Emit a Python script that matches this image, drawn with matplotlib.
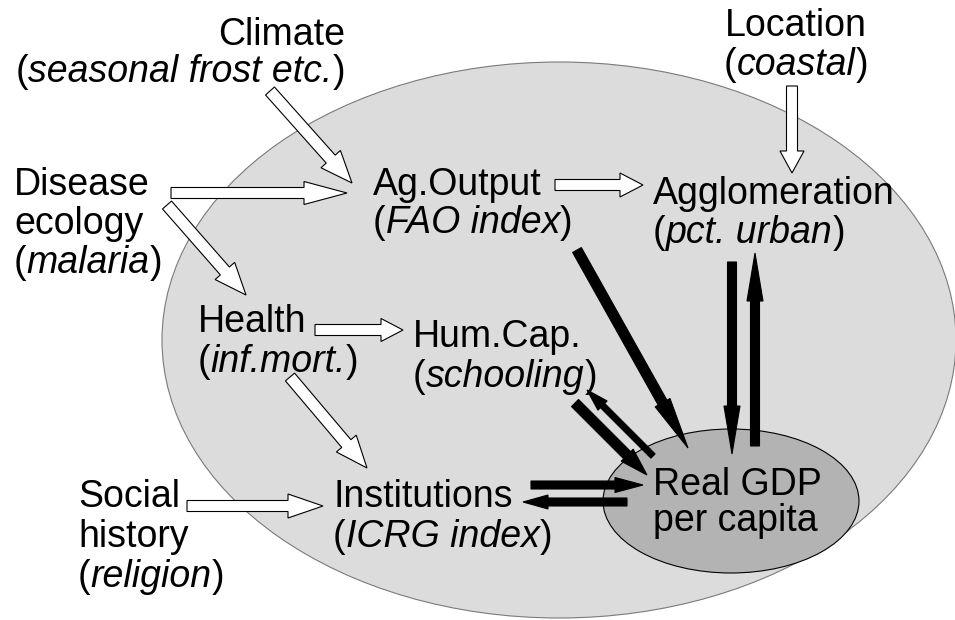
import matplotlib
matplotlib.use("Agg")
import matplotlib.pyplot as plt
from matplotlib.patches import Ellipse, FancyArrow

plt.rcParams['font.family'] = ['Liberation Sans', 'DejaVu Sans']

# Nodes: main label lines and the proxy variable (shown in italics)
node_keys = ["climate", "disease", "location", "agout", "agglom",
             "health", "humcap", "social", "inst", "gdp"]
node_lines = [["Climate"], ["Disease", "ecology"], ["Location"],
              ["Ag.Output"], ["Agglomeration"], ["Health"], ["Hum.Cap."],
              ["Social", "history"], ["Institutions"], ["Real GDP", "per capita"]]
node_proxy = ["seasonal frost etc.", "malaria", "coastal", "FAO index",
              "pct. urban", "inf.mort.", "schooling", "religion",
              "ICRG index", None]

# causal links: hollow = exogenous/indirect, solid = endogenous
white_links = [("climate", "agout"), ("disease", "agout"), ("disease", "health"),
               ("agout", "agglom"), ("location", "agglom"), ("health", "humcap"),
               ("health", "inst"), ("social", "inst")]
black_links = [("agout", "gdp"), ("agglom", "gdp"), ("gdp", "agglom"),
               ("humcap", "gdp"), ("gdp", "humcap"), ("inst", "gdp"),
               ("gdp", "inst")]

# layout (pixel coords): x, first baseline, alignment, line spacing
layout = {
    "climate": (345, 45, "right", 37),
    "disease": (14, 195, "left", 39),
    "location": (796, 36, "center", 39),
    "agout": (373, 195, "left", 38),
    "agglom": (653, 204, "left", 39),
    "health": (198, 332, "left", 40),
    "humcap": (413, 347, "left", 40),
    "social": (78, 507, "left", 40),
    "inst": (333, 507, "left", 40),
    "gdp": (653, 495, "left", 36),
}

# arrow geometry: tail, tip, shaft width, head width, head length
arrow_geom = {
    ("climate", "agout"): ((270, 91), (352, 183), 12, 26, 32),
    ("disease", "agout"): ((171, 193), (347, 193), 11, 23, 43),
    ("disease", "health"): ((167, 205), (246, 295), 12, 26, 32),
    ("agout", "agglom"): ((555, 185), (643, 185), 11, 24, 23),
    ("location", "agglom"): ((792, 86), (792, 173), 11, 24, 22),
    ("health", "humcap"): ((315, 330), (403, 330), 11, 23, 22),
    ("health", "inst"): ((290, 377), (367, 468), 12, 26, 32),
    ("social", "inst"): ((187, 506), (323, 506), 11, 24, 35),
    ("agout", "gdp"): ((577, 250), (688, 448), 10, 17, 52),
    ("agglom", "gdp"): ((732, 262), (732, 454), 9, 16, 48),
    ("gdp", "agglom"): ((755, 446), (755, 253), 9, 16, 48),
    ("humcap", "gdp"): ((575, 403), (647, 475), 10, 17, 28),
    ("gdp", "humcap"): ((653, 456), (587, 390), 6, 13, 22),
    ("inst", "gdp"): ((531, 485), (643, 485), 8, 15, 28),
    ("gdp", "inst"): ((627, 502), (523, 502), 8, 14, 25),
}

FS = 27

fig = plt.figure(figsize=(9.55, 6.2), dpi=100)
ax = fig.add_axes([0, 0, 1, 1])
ax.set_xlim(0, 955)
ax.set_ylim(620, 0)
ax.axis('off')

# outer ellipse (endogenous system) and GDP ellipse
ax.add_patch(Ellipse((559, 340), 794, 556, facecolor='#dcdcdc',
                     edgecolor='#7a7a7a', lw=0.8, zorder=1))
ax.add_patch(Ellipse((731, 501), 256, 144, facecolor='#b3b3b3',
                     edgecolor='black', lw=0.8, zorder=2))

for link in white_links + black_links:
    (x0, y0), (x1, y1), w, hw, hl = arrow_geom[link]
    solid = link in black_links
    ax.add_patch(FancyArrow(x0, y0, x1 - x0, y1 - y0, width=w, head_width=hw,
                            head_length=hl, length_includes_head=True,
                            facecolor='black' if solid else 'white',
                            edgecolor='black', lw=0.8, zorder=3))

renderer = fig.canvas.get_renderer()


def draw_line(x, y, pieces, ha):
    texts = [ax.text(0, y, s, fontsize=FS, fontstyle=st, va='baseline',
                     ha='left', zorder=5) for s, st in pieces]
    widths = [t.get_window_extent(renderer).width for t in texts]
    total = sum(widths)
    cur = x - {"left": 0, "center": total / 2, "right": total}[ha]
    for t, w in zip(texts, widths):
        t.set_position((cur, y))
        cur += w


for key, lines, proxy in zip(node_keys, node_lines, node_proxy):
    x, y, ha, dy = layout[key]
    rows = [[(s, 'normal')] for s in lines]
    if proxy:
        rows.append([("(", 'normal'), (proxy, 'italic'), (")", 'normal')])
    for i, row in enumerate(rows):
        draw_line(x, y + i * dy, row, ha)

fig.savefig("out.png", dpi=100)
